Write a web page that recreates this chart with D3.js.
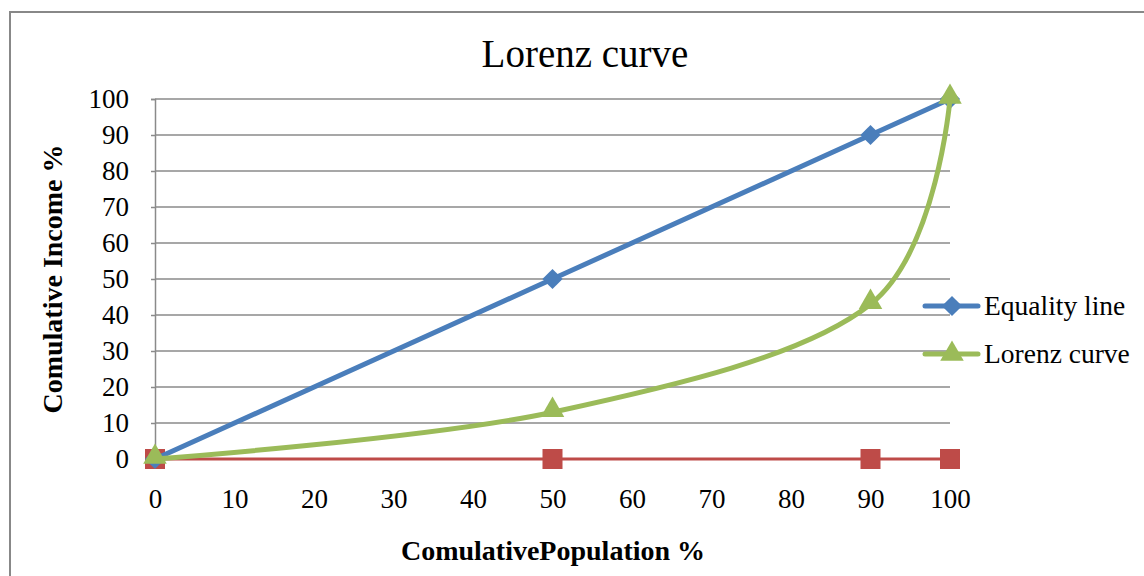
<!DOCTYPE html>
<html>
<head>
<meta charset="utf-8">
<script src="https://cdn.jsdelivr.net/npm/d3@7"></script>
<style>
  body { margin: 0; background: #fff; }
  svg { display: block; font-family: 'Liberation Serif', 'DejaVu Serif', serif; }
</style>
</head>
<body>
<svg width="1144" height="576"></svg>
<script>
const population = [0, 50, 90, 100];
const equality = [0, 50, 90, 100];
const lorenz = [0, 13, 43, 100];
const baseline = [0, 0, 0, 0];
const xTicks = [0, 10, 20, 30, 40, 50, 60, 70, 80, 90, 100];
const yTicks = [0, 10, 20, 30, 40, 50, 60, 70, 80, 90, 100];

const svg = d3.select('svg');

// chart frame
svg.append('rect')
    .attr('x', 10).attr('y', 12)
    .attr('width', 1160).attr('height', 600)
    .attr('fill', 'none')
    .attr('stroke', '#888')
    .attr('stroke-width', 2);

const x = d3.scaleLinear().domain([0, 100]).range([155, 950]);
const y = d3.scaleLinear().domain([0, 100]).range([459, 99]);

// gridlines
svg.append('g')
    .selectAll('line')
    .data(yTicks)
    .enter().append('line')
    .attr('x1', x(0)).attr('x2', x(100))
    .attr('y1', d => y(d)).attr('y2', d => y(d))
    .attr('stroke', '#8a8a8a')
    .attr('stroke-width', 1.5);

// y axis
const yAxis = svg.append('g')
    .attr('transform', `translate(${x(0)},0)`)
    .call(d3.axisLeft(y).tickValues(yTicks).tickSize(4).tickPadding(22));
yAxis.select('.domain').attr('stroke', '#8a8a8a').attr('stroke-width', 1.5);
yAxis.selectAll('.tick line').attr('stroke', '#8a8a8a').attr('stroke-width', 1.5);
yAxis.selectAll('text')
    .attr('font-size', 27)
    .attr('font-family', 'Liberation Serif, serif')
    .attr('fill', '#000');

// x axis labels (no visible line)
const xAxis = svg.append('g')
    .attr('transform', `translate(0,${y(0)})`)
    .call(d3.axisBottom(x).tickValues(xTicks).tickSize(0).tickPadding(30));
xAxis.select('.domain').remove();
xAxis.selectAll('text')
    .attr('font-size', 27)
    .attr('font-family', 'Liberation Serif, serif')
    .attr('fill', '#000');

// series
const blue = '#4a7ebb';
const green = '#9bbb59';
const red = '#be4b48';

const straight = d3.line()
    .x((d, i) => x(population[i]))
    .y(d => y(d));
const smooth = d3.line()
    .x((d, i) => x(population[i]))
    .y(d => y(d))
    .curve(d3.curveCatmullRom.alpha(0));

svg.append('path')
    .attr('d', straight(baseline))
    .attr('fill', 'none')
    .attr('stroke', red)
    .attr('stroke-width', 3);

svg.append('g')
    .selectAll('rect')
    .data(baseline)
    .enter().append('rect')
    .attr('x', (d, i) => x(population[i]) - 10)
    .attr('y', d => y(d) - 10)
    .attr('width', 20).attr('height', 20)
    .attr('fill', red);

svg.append('path')
    .attr('d', straight(equality))
    .attr('fill', 'none')
    .attr('stroke', blue)
    .attr('stroke-width', 5);

const diamond = d3.symbol().type(d3.symbolDiamond2).size(260);
const triangle = d3.symbol().type(d3.symbolTriangle).size(240);

svg.append('g')
    .selectAll('path')
    .data(equality)
    .enter().append('path')
    .attr('d', diamond)
    .attr('transform', (d, i) => `translate(${x(population[i])},${y(d)})`)
    .attr('fill', blue);

svg.append('path')
    .attr('d', smooth(lorenz))
    .attr('fill', 'none')
    .attr('stroke', green)
    .attr('stroke-width', 5);

svg.append('g')
    .selectAll('path')
    .data(lorenz)
    .enter().append('path')
    .attr('d', triangle)
    .attr('transform', (d, i) => `translate(${x(population[i])},${y(d) - 2})`)
    .attr('fill', green);

// legend
const legendItems = [
    {label: 'Equality line', color: blue, sym: diamond},
    {label: 'Lorenz curve', color: green, sym: triangle}
];
const legend = svg.append('g')
    .selectAll('g')
    .data(legendItems)
    .enter().append('g')
    .attr('transform', (d, i) => `translate(925,${306 + i * 48})`);
legend.append('line')
    .attr('x1', 0).attr('x2', 53)
    .attr('stroke', d => d.color)
    .attr('stroke-width', 5)
    .attr('stroke-linecap', 'round');
legend.append('path')
    .attr('d', d => d.sym())
    .attr('transform', 'translate(27,0)')
    .attr('fill', d => d.color);
legend.append('text')
    .text(d => d.label)
    .attr('x', 59)
    .attr('y', 9)
    .attr('font-size', 27.5)
    .attr('fill', '#000');

// titles
svg.append('text')
    .text('Lorenz curve')
    .attr('x', 585).attr('y', 67)
    .attr('text-anchor', 'middle')
    .attr('font-size', 39)
    .attr('fill', '#000');

svg.append('text')
    .text('Comulative Income %')
    .attr('transform', 'translate(62,279) rotate(-90)')
    .attr('text-anchor', 'middle')
    .attr('font-size', 28)
    .attr('font-weight', 'bold')
    .attr('fill', '#000');

svg.append('text')
    .text('ComulativePopulation %')
    .attr('x', 553).attr('y', 560)
    .attr('text-anchor', 'middle')
    .attr('font-size', 28)
    .attr('font-weight', 'bold')
    .attr('fill', '#000');
</script>
</body>
</html>
